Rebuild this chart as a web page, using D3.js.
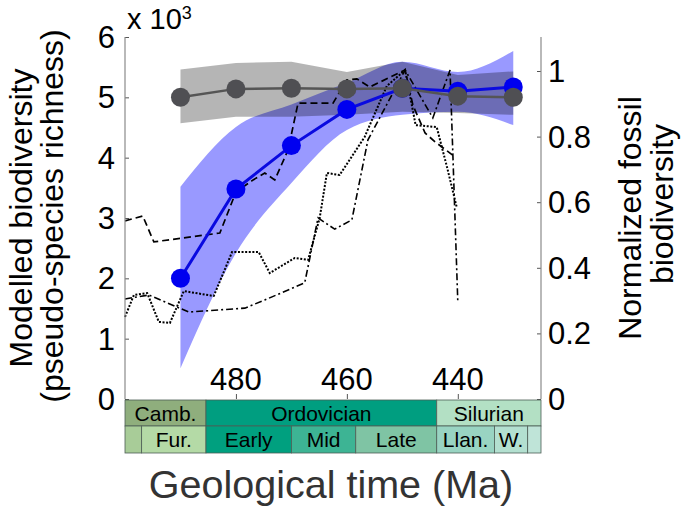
<!DOCTYPE html>
<html>
<head>
<meta charset="utf-8">
<script src="https://cdn.jsdelivr.net/npm/d3@7"></script>
<style>
  html, body { margin: 0; padding: 0; background: #fff; }
  svg { display: block; font-family: "Liberation Sans", Arial, sans-serif; }
</style>
</head>
<body>
<svg id="chart" width="685" height="508"></svg>
<script>
// ---------- data ----------
const ages = [490, 480, 470, 460, 450, 440, 430];
const blueMean  = [2.0, 3.48, 4.2, 4.8, 5.15, 5.1, 5.17];
const blueUpper = [3.52, 4.51, 4.88, 5.24, 5.59, 5.42, 5.77];
const blueLower = [0.51, 2.42, 3.58, 4.46, 4.71, 4.76, 4.54];
const greyMean  = [5.0, 5.14, 5.15, 5.14, 5.15, 5.02, 5.0];
const greyUpper = [5.46, 5.57, 5.59, 5.42, 5.59, 5.37, 5.43];
const greyLower = [4.57, 4.68, 4.68, 4.71, 4.76, 4.74, 4.71];

// fossil curves (right axis): [Ma, normalized value]
const dashedAges = [500, 496.8, 494.8, 482.9, 480.0, 476.9, 474.8, 473.0, 470.6, 468.8, 462.5, 460.0, 458.2, 455.9, 449.5, 448.1, 445.9, 444.1, 440.5];
const dashedVals = [0.543, 0.558, 0.479, 0.506, 0.631, 0.668, 0.689, 0.668, 0.759, 0.902, 0.902, 0.973, 0.976, 0.951, 1.003, 0.896, 0.811, 0.784, 0.738];
const dottedAges = [500, 498.4, 496.0, 493.9, 491.9, 489.4, 484.0, 480.7, 475.9, 473.9, 469.4, 467.0, 464.9, 463.6, 461.3, 459.5, 456.8, 452.8, 449.5, 447.6, 443.8, 441.9, 440.2];
const dottedVals = [0.25, 0.317, 0.323, 0.235, 0.232, 0.329, 0.314, 0.448, 0.448, 0.384, 0.430, 0.424, 0.552, 0.689, 0.683, 0.729, 0.799, 0.954, 1.003, 0.835, 0.829, 0.704, 0.585];
const dashDotAges = [500, 495.7, 488.5, 478.4, 474.8, 467.6, 465.2, 462.2, 459.1, 456.2, 449.5, 444.5, 441.4, 440.0];
const dashDotVals = [0.305, 0.317, 0.265, 0.277, 0.302, 0.354, 0.552, 0.518, 0.546, 0.790, 1.003, 0.857, 1.003, 0.296];

const leftTicks = [0, 1, 2, 3, 4, 5, 6];
const rightTicks = [0, 0.2, 0.4, 0.6, 0.8, 1];
const xTicks = [480, 460, 440];

const periods = [
  {name: "Camb.", start: 500, end: 485.4, color: "#8fae7d"},
  {name: "Ordovician", start: 485.4, end: 443.8, color: "#009e80"},
  {name: "Silurian", start: 443.8, end: 425, color: "#b3e0c4"}
];
const epochs = [
  {name: "", start: 500, end: 497, color: "#a8cc98"},
  {name: "Fur.", start: 497, end: 485.4, color: "#b4daa6"},
  {name: "Early", start: 485.4, end: 470, color: "#00a07f"},
  {name: "Mid", start: 470, end: 458.4, color: "#3db494"},
  {name: "Late", start: 458.4, end: 443.8, color: "#7fc4a4"},
  {name: "Llan.", start: 443.8, end: 433.4, color: "#99d4c2"},
  {name: "W.", start: 433.4, end: 427.4, color: "#b3e0d0"},
  {name: "", start: 427.4, end: 425, color: "#bfe4d8"}
];

// ---------- layout ----------
const L = 125, R = 541, T = 37, B = 399;
const svg = d3.select("#chart");
const x = d3.scaleLinear().domain([500, 425]).range([L, R]);
const yL = d3.scaleLinear().domain([0, 6]).range([B, T]);
const yR = d3.scaleLinear().domain([0, 1]).range([B, 71]);

// bands
const blueBand = ages.map((a, i) => ({a, lo: blueLower[i], hi: blueUpper[i]}));
const greyBand = ages.map((a, i) => ({a, lo: greyLower[i], hi: greyUpper[i]}));
const areaSmooth = d3.area().x(d => x(d.a)).y0(d => yL(d.lo)).y1(d => yL(d.hi)).curve(d3.curveMonotoneX);
const areaLin = d3.area().x(d => x(d.a)).y0(d => yL(d.lo)).y1(d => yL(d.hi));
svg.append("path").datum(blueBand).attr("d", areaSmooth).attr("fill", "#9999ff");
svg.append("path").datum(greyBand).attr("d", areaLin).attr("fill", "rgba(0,0,0,0.29)");

// fossil lines
const fl = d3.line().x(d => x(d[0])).y(d => yR(d[1]));
function fossil(agesArr, vals, dash, w) {
  svg.append("path").datum(agesArr.map((a, i) => [a, vals[i]]))
    .attr("d", fl).attr("fill", "none").attr("stroke", "#000")
    .attr("stroke-width", w).attr("stroke-dasharray", dash);
}
fossil(dashedAges, dashedVals, "7,4", 1.7);
fossil(dottedAges, dottedVals, "2,1.6", 2);
fossil(dashDotAges, dashDotVals, "7,3,2,3", 1.6);

// modelled series
const ml = d3.line().x(d => x(d[0])).y(d => yL(d[1]));
const bluePts = ages.map((a, i) => [a, blueMean[i]]);
const greyPts = ages.map((a, i) => [a, greyMean[i]]);
svg.append("path").datum(bluePts).attr("d", ml).attr("fill", "none").attr("stroke", "#0a0ae0").attr("stroke-width", 3);
svg.selectAll(".bp").data(bluePts).enter().append("circle")
  .attr("cx", d => x(d[0])).attr("cy", d => yL(d[1])).attr("r", 9.5).attr("fill", "#0000f0");
svg.append("path").datum(greyPts).attr("d", ml).attr("fill", "none").attr("stroke", "#555").attr("stroke-width", 2.5);
svg.selectAll(".gp").data(greyPts).enter().append("circle")
  .attr("cx", d => x(d[0])).attr("cy", d => yL(d[1])).attr("r", 9.5).attr("fill", "#4f4f53");

// axes
const axisCol = "#8a8a8a";
const gl = svg.append("g").attr("transform", `translate(${L},0)`)
  .call(d3.axisRight(yL).tickValues(leftTicks).tickSize(4).tickFormat(""));
const gr = svg.append("g").attr("transform", `translate(${R},0)`)
  .call(d3.axisLeft(yR).tickValues(rightTicks).tickSize(4).tickFormat(""));
const gx = svg.append("g").attr("transform", `translate(0,${B})`)
  .call(d3.axisTop(x).tickValues(xTicks).tickSize(5).tickFormat(""));
[gl, gr, gx].forEach(g => {
  g.selectAll("path").remove();
  g.selectAll("line").attr("stroke", "#555");
});
svg.append("line").attr("x1", L).attr("x2", L).attr("y1", T).attr("y2", B).attr("stroke", axisCol).attr("stroke-width", 1.2);
svg.append("line").attr("x1", R).attr("x2", R).attr("y1", T).attr("y2", B).attr("stroke", axisCol).attr("stroke-width", 1.2);

// tick labels
svg.append("g").selectAll("text").data(leftTicks).enter().append("text")
  .attr("x", 115).attr("y", d => yL(d) + 11).attr("text-anchor", "end")
  .attr("font-size", 31).attr("fill", "#000").text(d => d);
svg.append("g").selectAll("text").data(rightTicks).enter().append("text")
  .attr("x", 548).attr("y", d => yR(d) + 11).attr("text-anchor", "start")
  .attr("font-size", 31).attr("fill", "#000").text(d => d);
svg.append("g").selectAll("text").data(xTicks).enter().append("text")
  .attr("x", d => x(d)).attr("y", 390).attr("text-anchor", "middle")
  .attr("font-size", 31).attr("fill", "#000").text(d => d);

// x 10^3
const sc = svg.append("text").attr("x", 127).attr("y", 29).attr("font-size", 29).attr("fill", "#000");
sc.append("tspan").text("x 10");
sc.append("tspan").attr("font-size", 18).attr("dy", -10).text("3");

// axis titles
const lt = [["Modelled biodiversity", 32, 218], ["(pseudo-species richness)", 63, 216]];
lt.forEach(([t, bx, cy]) => svg.append("text").attr("transform", `translate(${bx},${cy}) rotate(-90)`)
  .attr("text-anchor", "middle").attr("font-size", 32).attr("fill", "#000").text(t));
const rt = [["Normalized fossil", 641, 218], ["biodiversity", 673, 204]];
rt.forEach(([t, bx, cy]) => svg.append("text").attr("transform", `translate(${bx},${cy}) rotate(-90)`)
  .attr("text-anchor", "middle").attr("font-size", 32).attr("fill", "#000").text(t));
svg.append("text").attr("x", 331).attr("y", 498).attr("text-anchor", "middle")
  .attr("font-size", 39.5).attr("fill", "#333").text("Geological time (Ma)");

// timescale
function row(data, y0, h) {
  const g = svg.append("g");
  g.selectAll("rect").data(data).enter().append("rect")
    .attr("x", d => x(d.start)).attr("y", y0)
    .attr("width", d => x(d.end) - x(d.start)).attr("height", h)
    .attr("fill", d => d.color).attr("stroke", "#4d5e55").attr("stroke-width", 0.8);
  g.selectAll("text").data(data).enter().append("text")
    .attr("x", d => (x(d.start) + x(d.end)) / 2).attr("y", y0 + h / 2 + 7.5)
    .attr("text-anchor", "middle").attr("font-size", 21).attr("fill", "#000").text(d => d.name);
}
row(periods, 400, 26);
row(epochs, 426, 27);
</script>
</body>
</html>
